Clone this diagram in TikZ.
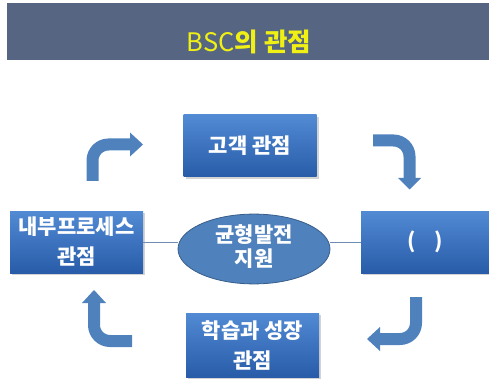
\documentclass[tikz,border=0pt]{standalone}
\usepackage{fontspec}
\newfontfamily\kr{Noto Sans CJK KR}
\usetikzlibrary{shapes.geometric,shadows}
\definecolor{titlebg}{RGB}{86,102,130}
\definecolor{titlefg}{RGB}{240,240,20}
\definecolor{boxtop}{RGB}{82,138,212}
\definecolor{boxbot}{RGB}{40,92,168}
\definecolor{arrowblue}{RGB}{79,129,189}
\definecolor{ellborder}{RGB}{56,93,138}
\definecolor{linkc}{RGB}{110,140,180}
\tikzset{
  pbox/.style={rectangle, minimum width=133pt, minimum height=62pt, inner sep=0pt,
    top color=boxtop, bottom color=boxbot, draw=none,
    drop shadow={opacity=0.35, shadow xshift=2pt, shadow yshift=-2pt},
    text=white, font=\kr\bfseries\fontsize{21}{30}\selectfont, align=center},
  pell/.style={ellipse, minimum width=152pt, minimum height=68pt, inner sep=0pt,
    fill=arrowblue, draw=ellborder, line width=0.8pt,
    text=white, font=\kr\bfseries\fontsize{21}{23}\selectfont, align=center},
  bent/.style={draw=arrowblue, line width=12pt, rounded corners=16pt},
  bhead/.style={fill=arrowblue, draw=none},
  link/.style={draw=linkc, line width=0.9pt}
}
\begin{document}
\begin{tikzpicture}[x=1pt,y=-1pt]
\useasboundingbox (0,0) rectangle (489,379);
\clip (0,0) rectangle (489,379);
% title bar
\fill[titlebg] (7,3) rectangle (489,60);
\node (title) at (249,42) {\kr\fontsize{25.5}{28}\selectfont\color{titlefg}BSC\bfseries 의 관점};
% boxes
\node[pbox] (cust) at (250,146) {고객 관점};
\node[pbox] (inner) at (76.5,242) {내부프로세스\\관점};
\node[pbox] (fin) at (427.5,242) {\hspace{-5pt}(\hspace{0.9em})};
\node[pbox, minimum height=64pt] (learn) at (252.5,345) {학습과 성장\\관점};
\node[pell] (bal) at (254,249) {\raisebox{3pt}{\begin{tabular}{@{}c@{}}균형발전\\지원\end{tabular}}};
% links
\draw[link] (inner.east) -- (bal.west |- inner.east);
\draw[link] (bal.east |- fin.west) -- (fin.west);
% bent arrows
\coordinate (a1s) at (92.5,181); \coordinate (a1c) at (92.5,144.5); \coordinate (a1e) at (130.5,144.5);
\draw[bent] (a1s) -- (a1c) -- (a1e);
\fill[bhead] (130,132.5) -- (143,144.5) -- (130,156.5) -- cycle;
\coordinate (a2s) at (373,140.5); \coordinate (a2c) at (409.5,140.5); \coordinate (a2e) at (409.5,178.5);
\draw[bent] (a2s) -- (a2c) -- (a2e);
\fill[bhead] (398,178) -- (421,178) -- (409.5,189.5) -- cycle;
\coordinate (a3s) at (416,297); \coordinate (a3c) at (416,339); \coordinate (a3e) at (379.5,339);
\draw[bent] (a3s) -- (a3c) -- (a3e);
\fill[bhead] (380,327) -- (367,339) -- (380,351) -- cycle;
\coordinate (a4s) at (132,341); \coordinate (a4c) at (94,341); \coordinate (a4e) at (94,302.5);
\draw[bent] (a4s) -- (a4c) -- (a4e);
\fill[bhead] (82,303) -- (94,290) -- (106,303) -- cycle;
\end{tikzpicture}
\end{document}
